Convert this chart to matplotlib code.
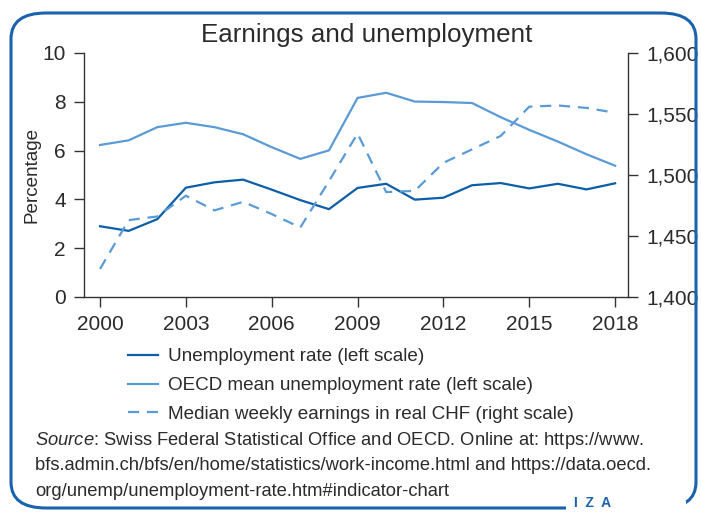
import matplotlib
matplotlib.use("Agg")
import matplotlib.pyplot as plt
from matplotlib.patches import FancyBboxPatch

plt.rcParams['font.family'] = ['Liberation Sans', 'DejaVu Sans']
plt.rcParams['mathtext.fontset'] = 'custom'
plt.rcParams['mathtext.rm'] = 'Liberation Sans'
plt.rcParams['mathtext.it'] = 'Liberation Sans:italic'

years = list(range(2000, 2019))
unemp = [2.90, 2.71, 3.19, 4.48, 4.70, 4.81, 4.40, 3.97, 3.60, 4.47,
         4.64, 3.99, 4.07, 4.58, 4.67, 4.45, 4.64, 4.41, 4.66]
oecd = [6.23, 6.42, 6.96, 7.14, 6.96, 6.67, 6.14, 5.66, 6.01, 8.16,
        8.37, 8.01, 7.99, 7.95, 7.37, 6.85, 6.37, 5.85, 5.38]
earnings = [1423, 1463, 1466, 1483, 1471, 1478, 1468, 1457, 1495, 1534,
            1486, 1487, 1510, 1521, 1532, 1556, 1557, 1555, 1551]

xticks = [2000, 2003, 2006, 2009, 2012, 2015, 2018]
lticks = [0, 2, 4, 6, 8, 10]
rticks = [1400, 1450, 1500, 1550, 1600]
rlabels = ['1,400', '1,450', '1,500', '1,550', '1,600']

dark = '#0b5ea8'
light = '#5b9bd5'
txt = '#2b2b2b'
border = '#1a62ad'

W, H = 701, 517
fig = plt.figure(figsize=(W / 100, H / 100), dpi=100)

# rounded frame
box = FancyBboxPatch((11 / W, 9 / H), 685 / W, 495 / H,
                     boxstyle="round,pad=0,rounding_size=0.05",
                     transform=fig.transFigure, fill=False,
                     edgecolor=border, linewidth=2.2)
fig.patches.append(box)
# gap for logo
fig.patches.append(plt.Rectangle((566 / W, 0), 120 / W, 16 / H,
                                 transform=fig.transFigure,
                                 facecolor='white', edgecolor='none'))
fig.text(574 / W, (H - 503) / H, 'I  Z  A', color=border, fontsize=10,
         fontweight='bold', va='center')

ax = fig.add_axes([84 / W, (H - 297) / H, (628 - 84) / W, (297 - 53) / H])
ax2 = ax.twinx()

l1, = ax.plot(years, unemp, color=dark, lw=1.6)
l2, = ax.plot(years, oecd, color=light, lw=1.6)
l3, = ax2.plot(years, earnings, color=light, lw=1.6, dashes=(5, 3.5))

ax.set_xlim(1999.44, 2018.45)
ax.set_ylim(0, 10)
ax2.set_ylim(1400, 1600)
ax.set_xticks(xticks)
ax.set_yticks(lticks)
ax2.set_yticks(rticks)
ax2.set_yticklabels(rlabels)

for a in (ax, ax2):
    a.spines['top'].set_visible(False)
    for s in a.spines.values():
        s.set_color('#333333')
        s.set_linewidth(1.0)
    a.tick_params(colors='#333333', labelcolor=txt, labelsize=15,
                  length=7, width=1.0, pad=6)
ax.spines['right'].set_visible(False)
ax2.spines['left'].set_visible(False)
ax2.spines['bottom'].set_visible(False)

ax.set_ylabel('Percentage', fontsize=13.6, color=txt, labelpad=1.5)
fig.text(367 / W, (H - 35) / H, 'Earnings and unemployment',
         fontsize=18.7, color=txt, ha='center', va='center')

fig.legend([l1, l2, l3],
           ['Unemployment rate (left scale)',
            'OECD mean unemployment rate (left scale)',
            'Median weekly earnings in real CHF (right scale)'],
           loc='upper left', bbox_to_anchor=(128 / W, (H - 348) / H),
           frameon=False, fontsize=13.6, handlelength=1.6,
           handletextpad=0.53, labelspacing=0.62, labelcolor=txt,
           borderpad=0, borderaxespad=0)

src_lines = [
    "$\\it{Source}$: Swiss Federal Statistical Office and OECD. Online at: https://www.",
    "bfs.admin.ch/bfs/en/home/statistics/work-income.html and https://data.oecd.",
    "org/unemp/unemployment-rate.htm#indicator-chart",
]
for i, line in enumerate(src_lines):
    fig.text(35 / W, (H - 445 - 25.5 * i) / H, line, fontsize=13.2,
             color=txt, va='baseline', ha='left')

fig.savefig('out.png', dpi=100)
